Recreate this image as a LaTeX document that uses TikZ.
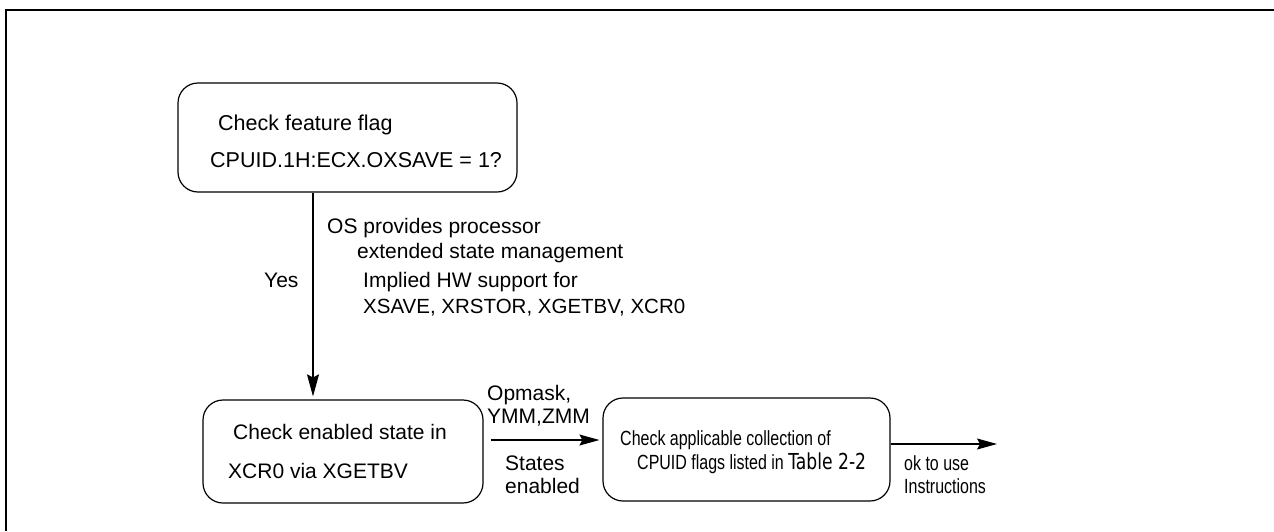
\documentclass[tikz,border=0pt]{standalone}
\usepackage{fontspec}
\setmainfont{Liberation Sans}
\newfontfamily\tabfont{DejaVu Sans}
\usetikzlibrary{arrows.meta}
\newcommand{\narrow}[1]{\scalebox{0.78}[1]{#1}}
\begin{document}
\begin{tikzpicture}[x=1pt,y=-1pt,
  box/.style={draw, line width=1.2pt, rounded corners=20pt, inner sep=0pt},
  lbl/.style={anchor=base west, inner sep=0pt, font=\fontsize{21}{24}\selectfont},
  blbl/.style={anchor=base west, inner sep=0pt, font=\fontsize{21.5}{24}\selectfont},
  slbl/.style={anchor=base west, inner sep=0pt, font=\fontsize{20.5}{23}\selectfont},
  conn/.style={line width=1.1pt, -{Stealth[length=20pt,width=11pt,inset=3pt]}}]
\useasboundingbox (0,0) rectangle (1274,531);
\draw[line width=2.5pt] (6,531) -- (6,10) -- (1274,10);
% boxes
\node[box, minimum width=339pt, minimum height=109pt] (b1) at (347.5,137.5) {};
\node[box, minimum width=280pt, minimum height=103pt] (b2) at (343,451.5) {};
\node[box, minimum width=287pt, minimum height=103pt] (b3) at (746.5,449.5) {};
% box texts
\node[blbl] (t1a) at (218,130) {Check feature flag};
\node[blbl] (t1b) at (210,167) {CPUID.1H:ECX.OXSAVE = 1?};
\node[lbl] (t2a) at (233,439) {Check enabled state in};
\node[lbl] (t2b) at (228,478) {XCR0 via XGETBV};
\node[slbl] (t3a) at (620,445) {\narrow{Check applicable collection of}};
\node[slbl] (t3b) at (637,469) {\narrow{CPUID flags listed in {\tabfont\fontsize{22}{24}\selectfont Table 2-2}}};
% connectors
\coordinate (v) at (313,0);
\draw[conn, -{Stealth[length=22pt,width=12pt,inset=3pt]}, shorten >=3pt] (b1.south -| v) -- (b2.north -| v);
\coordinate (h2) at (0,440);
\draw[conn, shorten <=7pt, shorten >=3pt] (b2.east |- h2) -- (b3.west |- h2);
\coordinate (out) at (997,444);
\draw[conn] (b3.east |- out) -- (out);
% connector labels
\node[lbl] (yes) at (264,287) {Yes};
\node[lbl] (m1) at (327,233) {OS provides processor};
\node[lbl] (m2) at (357,258) {extended state management};
\node[lbl] (m3) at (363,287) {Implied HW support for};
\node[anchor=base west, inner sep=0pt, font=\fontsize{20.5}{24}\selectfont] (m4) at (363,313) {XSAVE, XRSTOR, XGETBV, XCR0};
\node[lbl] (o1) at (487,400) {Opmask,};
\node[lbl] (o2) at (487,423) {YMM,ZMM};
\node[lbl] (s1) at (505,470) {States};
\node[lbl] (s2) at (505,493) {enabled};
\node[slbl] (k1) at (904,470) {\narrow{ok to use}};
\node[slbl] (k2) at (904,493) {\narrow{Instructions}};
\end{tikzpicture}
\end{document}
